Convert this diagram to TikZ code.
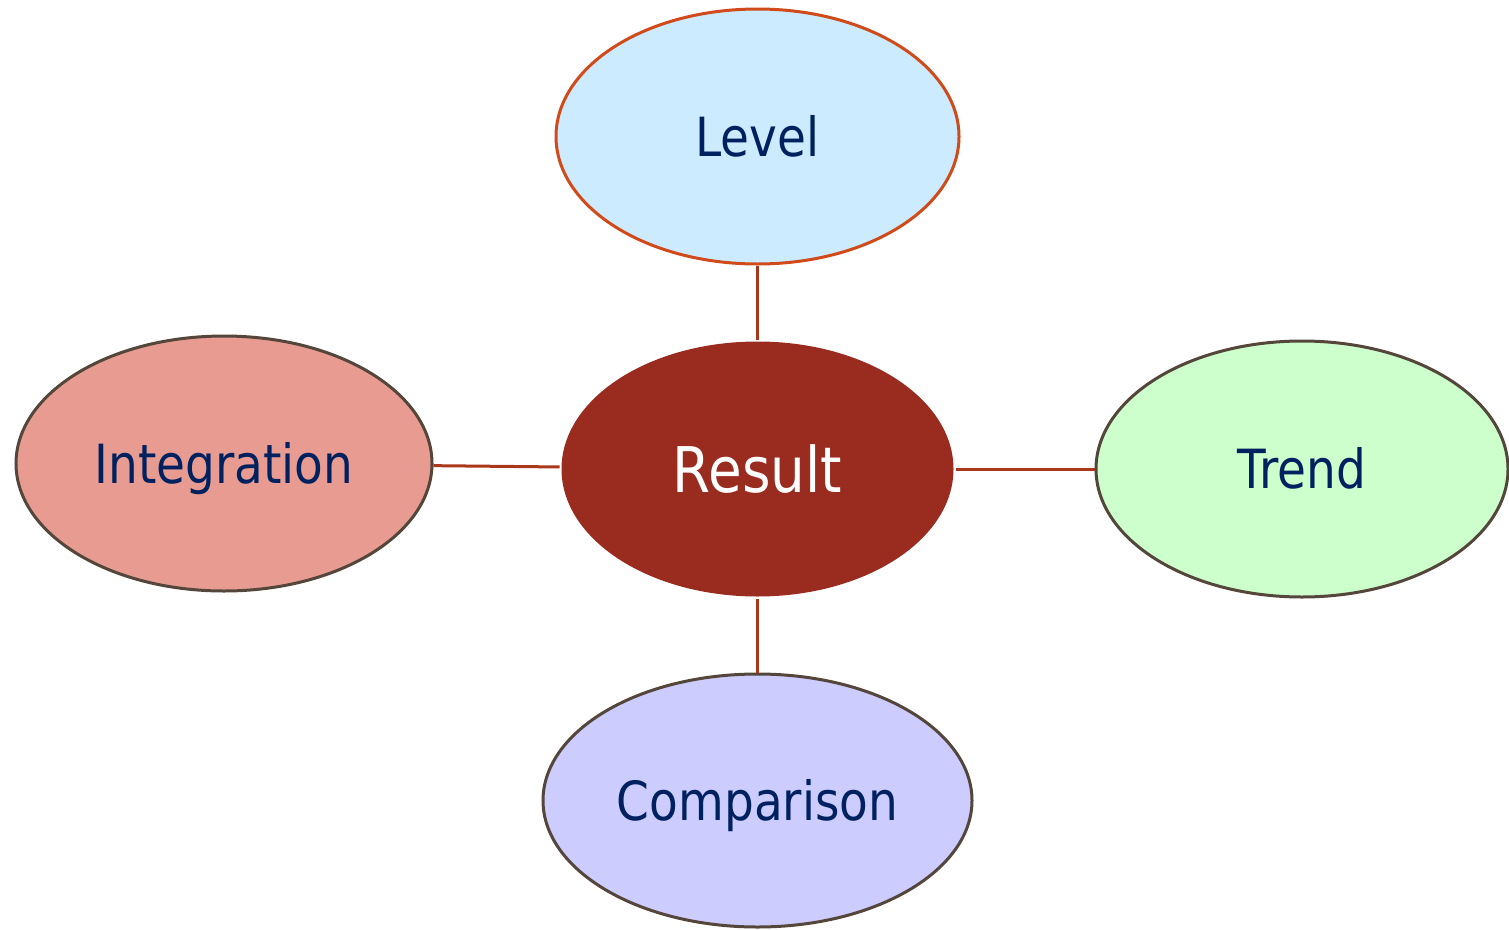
\documentclass[tikz,border=0pt]{standalone}
\usepackage{fontspec}
\newfontfamily\nodefont{DejaVu Sans}[FakeStretch=0.87]
\usetikzlibrary{shapes.geometric}
\definecolor{txtblue}{HTML}{00215F}
\definecolor{edgecol}{HTML}{AA3719}
\definecolor{levstroke}{HTML}{D04A1A}
\definecolor{darkstroke}{HTML}{54463A}
\definecolor{levfill}{HTML}{CCEBFF}
\definecolor{resfill}{HTML}{992B1F}
\definecolor{intfill}{HTML}{E89C91}
\definecolor{trendfill}{HTML}{CCFFCC}
\definecolor{compfill}{HTML}{CCCCFF}
\tikzset{
  oval/.style={ellipse, draw=darkstroke, line width=3pt, inner sep=0pt,
    text=txtblue, font=\nodefont\fontsize{54}{60}\selectfont,
    text height=39pt, text depth=0pt},
  link/.style={draw=edgecol, line width=3pt, shorten >=2pt}
}
\begin{document}
\begin{tikzpicture}[x=1pt,y=-1pt]
\useasboundingbox (0,0) rectangle (1509,929);
\node[oval, draw=levstroke, fill=levfill, minimum width=403pt, minimum height=255pt] (level) at (757.5,136.5) {Level};
\node[oval, draw=resfill, fill=resfill, text=white, font=\nodefont\fontsize{63}{70}\selectfont, text height=46pt, minimum width=389pt, minimum height=252pt] (result) at (757.5,469) {Result};
\node[oval, fill=intfill, minimum width=416pt, minimum height=255pt] (integ) at (224,463.5) {Integration};
\node[oval, fill=trendfill, minimum width=412pt, minimum height=256pt] (trend) at (1302,469) {Trend};
\node[oval, fill=compfill, minimum width=429pt, minimum height=253pt] (comp) at (757.5,800.5) {Comparison};
\draw[link] (level) -- (result);
\draw[link] (integ) -- (result);
\draw[link] (trend) -- (result);
\draw[link] (comp) -- (result);
\end{tikzpicture}
\end{document}
